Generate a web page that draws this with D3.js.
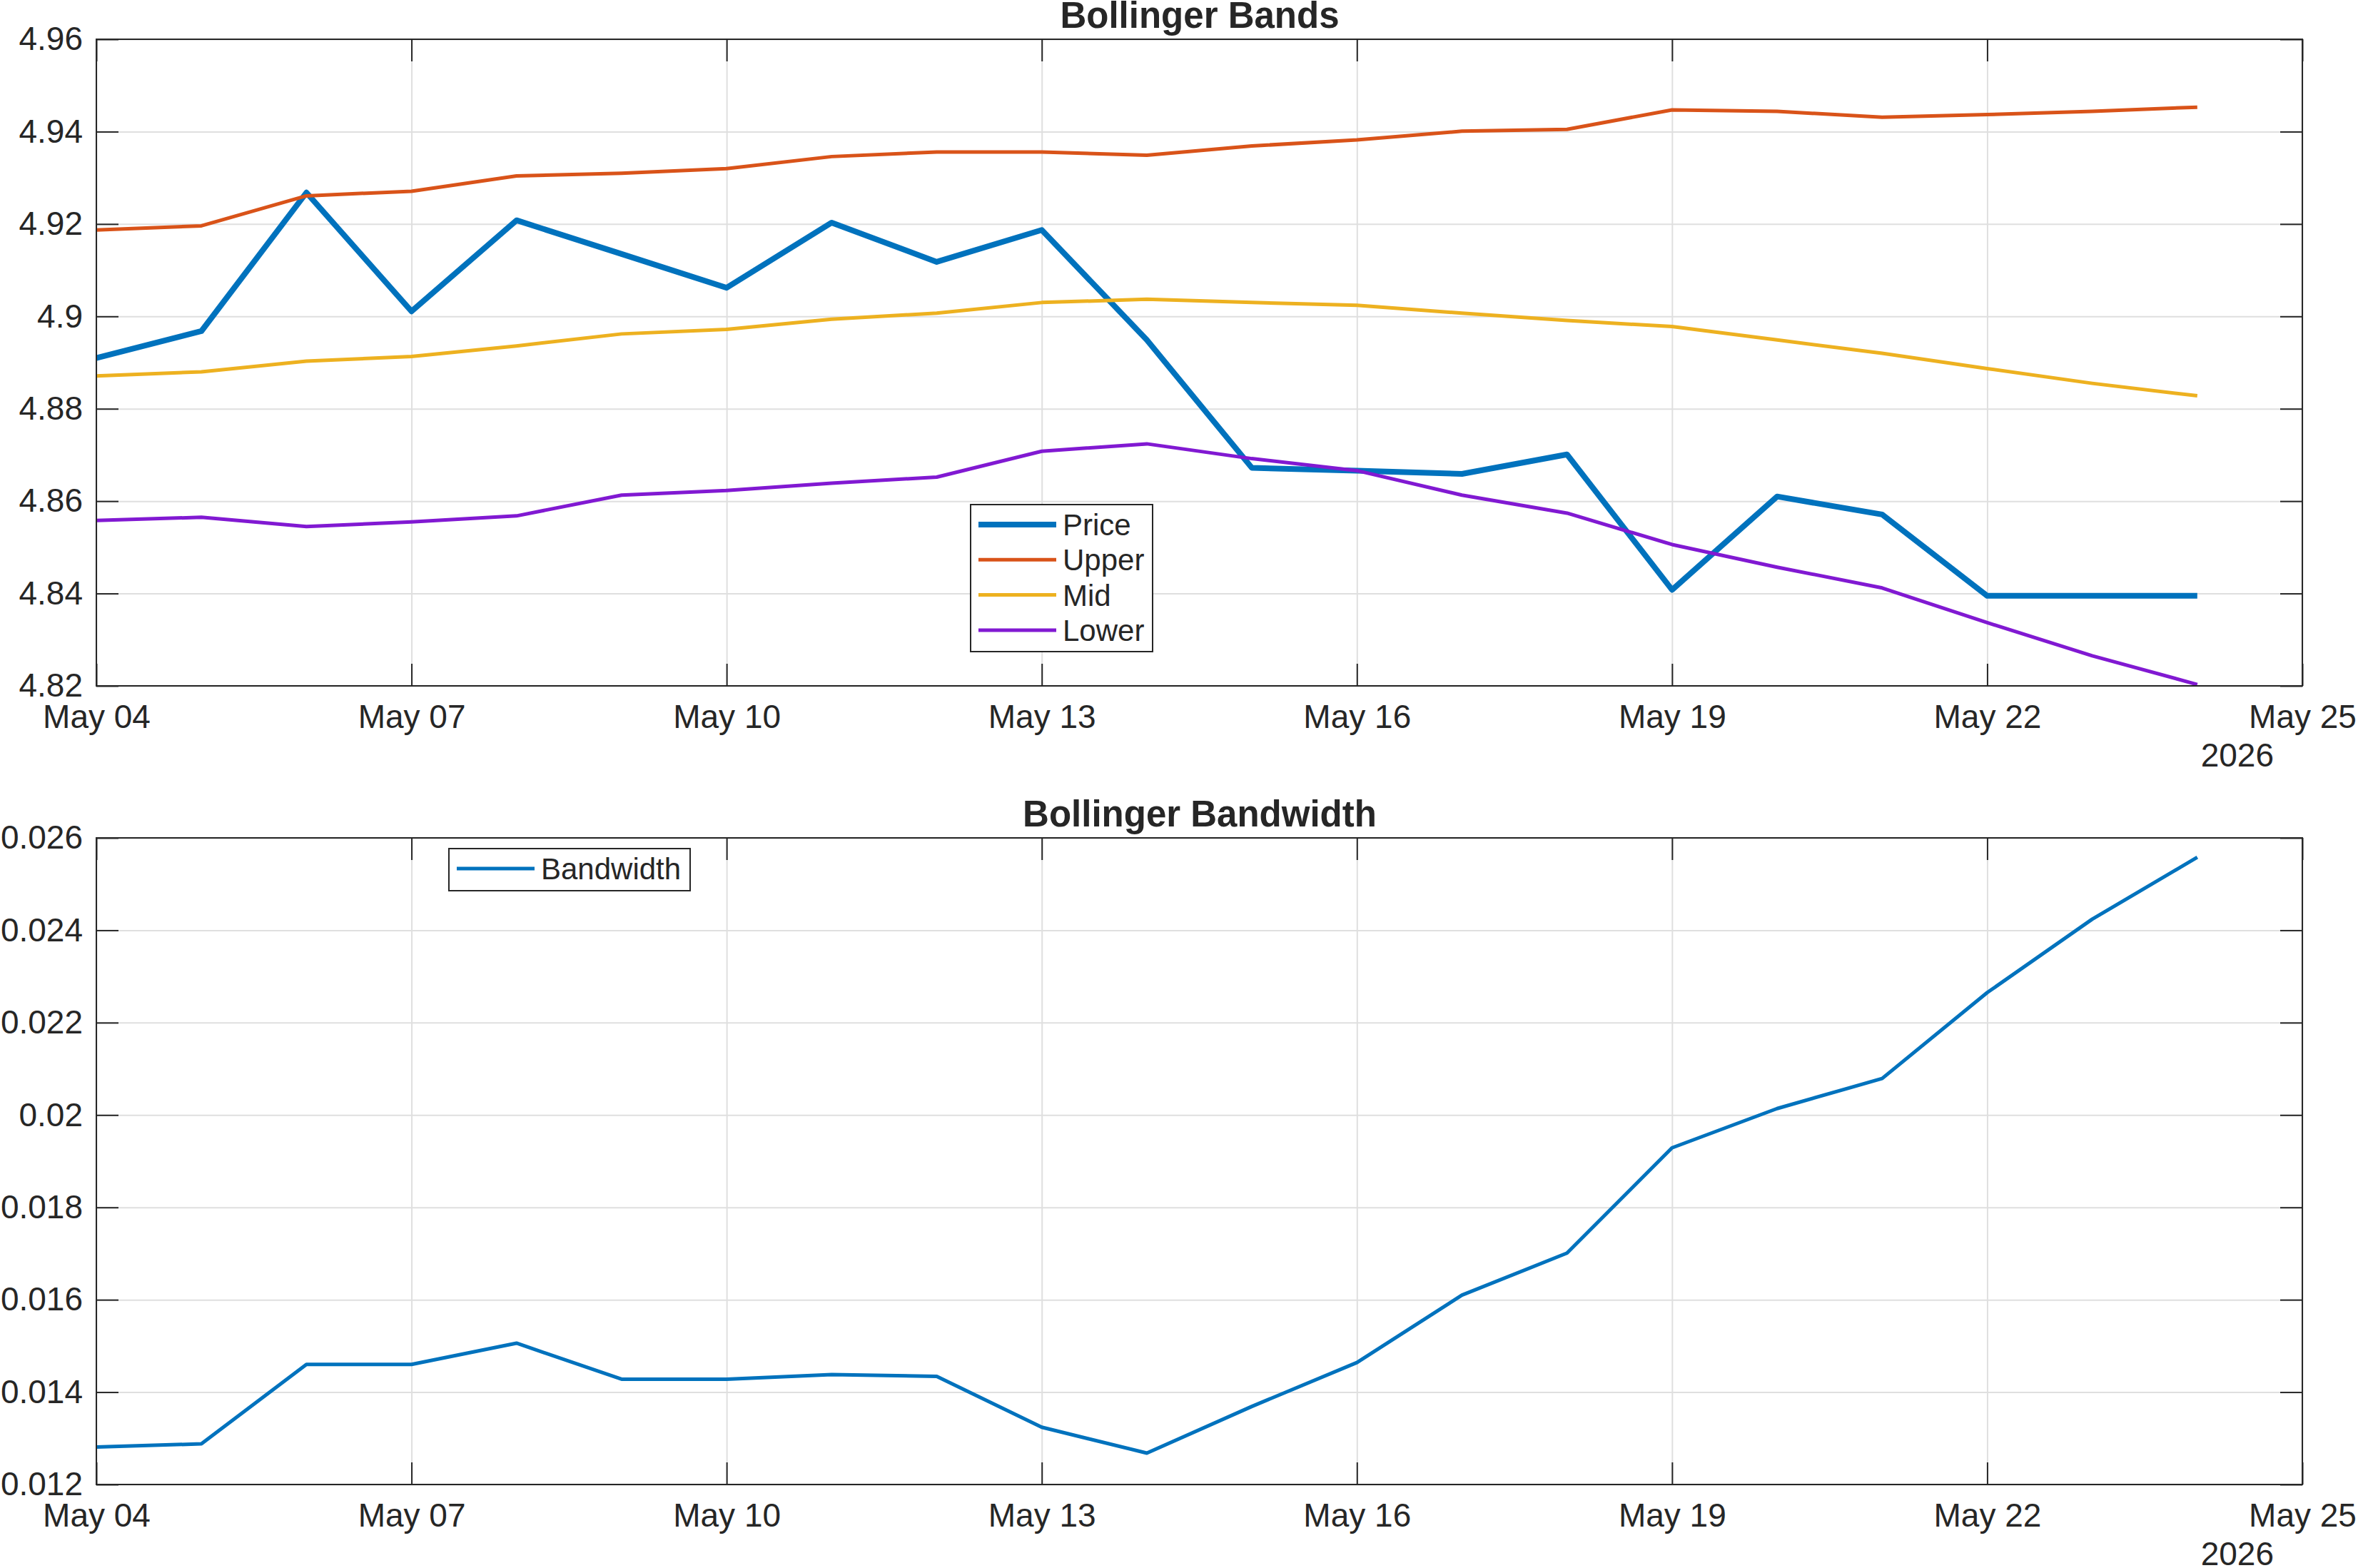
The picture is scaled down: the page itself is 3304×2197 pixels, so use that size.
<!DOCTYPE html>
<html lang="en">
	<head>
		<meta charset="utf-8">
		<title>Bollinger Bands</title>
		<script type="text/javascript" src="https://cdn.jsdelivr.net/npm/d3@7"></script>
		<style type="text/css">
			body { margin: 0; background: #fff; }
			text { font-family: "Liberation Sans", Arial, Helvetica, sans-serif; fill: #262626; }
		</style>
	</head>
	<body>
		<script type="text/javascript">

		var w = 3304;
		var h = 2197;

		// dates (one value per day)
		var days = ["2026-05-04", "2026-05-05", "2026-05-06", "2026-05-07", "2026-05-08", "2026-05-09", "2026-05-10",
			"2026-05-11", "2026-05-12", "2026-05-13", "2026-05-14", "2026-05-15", "2026-05-16", "2026-05-17",
			"2026-05-18", "2026-05-19", "2026-05-20", "2026-05-21", "2026-05-22", "2026-05-23", "2026-05-24"];

		var price = [4.8910, 4.8968, 4.9268, 4.9011, 4.9208, 4.9135, 4.9062, 4.9203, 4.9118, 4.9187, 4.8949,
			4.8672, 4.8666, 4.8659, 4.8701, 4.8408, 4.8610, 4.8571, 4.8395, 4.8395, 4.8395];
		var upper = [4.9187, 4.9196, 4.9261, 4.9271, 4.9304, 4.9310, 4.9320, 4.9346, 4.9356, 4.9356, 4.9349,
			4.9369, 4.9382, 4.9401, 4.9405, 4.9447, 4.9444, 4.9431, 4.9437, 4.9444, 4.9453];
		var mid = [4.8871, 4.8880, 4.8903, 4.8913, 4.8936, 4.8962, 4.8972, 4.8994, 4.9007, 4.9030, 4.9037,
			4.9030, 4.9024, 4.9007, 4.8991, 4.8978, 4.8949, 4.8920, 4.8887, 4.8855, 4.8828];
		var lower = [4.8558, 4.8565, 4.8545, 4.8555, 4.8568, 4.8613, 4.8623, 4.8639, 4.8652, 4.8708, 4.8724,
			4.8692, 4.8666, 4.8613, 4.8574, 4.8506, 4.8457, 4.8412, 4.8337, 4.8265, 4.8203];
		var bandwidth = [0.01281, 0.01288, 0.01460, 0.01460, 0.01506, 0.01428, 0.01428, 0.01438, 0.01434, 0.01324, 0.01268,
			0.01369, 0.01464, 0.01610, 0.01701, 0.01929, 0.02014, 0.02079, 0.02265, 0.02424, 0.02558];

		// tick labels
		var xTickDays = ["2026-05-04", "2026-05-07", "2026-05-10", "2026-05-13", "2026-05-16", "2026-05-19", "2026-05-22", "2026-05-25"];
		var yTicksBands = [4.82, 4.84, 4.86, 4.88, 4.90, 4.92, 4.94, 4.96];
		var yTicksWidth = [0.012, 0.014, 0.016, 0.018, 0.020, 0.022, 0.024, 0.026];

		var parse = d3.utcParse("%Y-%m-%d");
		var dates = days.map(parse);
		var xTicks = xTickDays.map(parse);

		var svg = d3.select("body")
			.append("svg")
			.attr("width", w)
			.attr("height", h)
			.style("overflow", "visible");

		var left = 135, right = 3226;
		var tickLen = 31;
		var axisColor = "#262626";
		var tickFont = 46;

		var xScale = d3.scaleUtc()
			.domain([xTicks[0], xTicks[xTicks.length - 1]])
			.range([left, right]);

		function fmt(d) { return String(+d.toFixed(3)); }

		function drawPanel(top, bottom, yTicks, title, series, legendBox) {
			var yScale = d3.scaleLinear()
				.domain([yTicks[0], yTicks[yTicks.length - 1]])
				.range([bottom, top]);
			var g = svg.append("g");

			// grid
			g.append("g")
				.attr("transform", "translate(0," + bottom + ")")
				.call(d3.axisBottom(xScale).tickValues(xTicks).tickSize(-(bottom - top)).tickFormat(""))
				.call(function(s) { s.select(".domain").remove(); s.selectAll("line").attr("stroke", "#dfdfdf").attr("stroke-width", 2); });
			g.append("g")
				.attr("transform", "translate(" + left + ",0)")
				.call(d3.axisLeft(yScale).tickValues(yTicks).tickSize(-(right - left)).tickFormat(""))
				.call(function(s) { s.select(".domain").remove(); s.selectAll("line").attr("stroke", "#dfdfdf").attr("stroke-width", 2); });

			// lines
			series.forEach(function(sr) {
				var line = d3.line()
					.x(function(d, i) { return xScale(dates[i]); })
					.y(function(d) { return yScale(d); });
				g.append("path")
					.datum(sr.values)
					.attr("d", line)
					.attr("fill", "none")
					.attr("stroke", sr.color)
					.attr("stroke-width", sr.width)
					.attr("stroke-linejoin", "round");
			});

			// axes with inward ticks on all four sides
			function styleAxis(s) {
				s.select(".domain").remove();
				s.attr("color", axisColor).attr("font-size", tickFont).attr("font-family", null);
				s.selectAll("line").attr("stroke-width", 2);
			}
			g.append("g")
				.attr("transform", "translate(0," + bottom + ")")
				.call(d3.axisBottom(xScale).tickValues(xTicks).tickSize(-tickLen).tickPadding(26).tickFormat(d3.utcFormat("%b %d")))
				.call(styleAxis);
			g.append("g")
				.attr("transform", "translate(0," + top + ")")
				.call(d3.axisTop(xScale).tickValues(xTicks).tickSize(-tickLen).tickFormat(""))
				.call(styleAxis);
			g.append("g")
				.attr("transform", "translate(" + left + ",0)")
				.call(d3.axisLeft(yScale).tickValues(yTicks).tickSize(-tickLen).tickPadding(19).tickFormat(fmt))
				.call(styleAxis);
			g.append("g")
				.attr("transform", "translate(" + right + ",0)")
				.call(d3.axisRight(yScale).tickValues(yTicks).tickSize(-tickLen).tickFormat(""))
				.call(styleAxis);

			g.append("rect")
				.attr("x", left).attr("y", top)
				.attr("width", right - left).attr("height", bottom - top)
				.attr("fill", "none")
				.attr("stroke", axisColor)
				.attr("stroke-width", 2);

			g.append("text")
				.attr("x", 3186).attr("y", bottom + 113)
				.attr("text-anchor", "end")
				.attr("font-size", tickFont)
				.text("2026");

			g.append("text")
				.attr("x", 1681).attr("y", top - 16)
				.attr("text-anchor", "middle")
				.attr("font-size", 51)
				.attr("font-weight", "bold")
				.text(title);

			// legend
			var lg = g.append("g");
			lg.append("rect")
				.attr("x", legendBox.x).attr("y", legendBox.y)
				.attr("width", legendBox.w).attr("height", legendBox.h)
				.attr("fill", "#fff")
				.attr("stroke", axisColor)
				.attr("stroke-width", 2);
			series.forEach(function(sr, i) {
				var by = legendBox.y + legendBox.first + i * 49.3;
				lg.append("line")
					.attr("x1", legendBox.x + 11).attr("x2", legendBox.x + 120)
					.attr("y1", by - 15).attr("y2", by - 15)
					.attr("stroke", sr.color)
					.attr("stroke-width", sr.width);
				lg.append("text")
					.attr("x", legendBox.x + 129).attr("y", by)
					.attr("font-size", 42)
					.text(sr.name);
			});
		}

		drawPanel(55, 961, yTicksBands, "Bollinger Bands", [
			{ name: "Price", values: price, color: "#0072BD", width: 8 },
			{ name: "Upper", values: upper, color: "#D95319", width: 5 },
			{ name: "Mid", values: mid, color: "#EDB120", width: 5 },
			{ name: "Lower", values: lower, color: "#8119D2", width: 5 }
		], { x: 1360, y: 707, w: 255, h: 206, first: 43 });

		drawPanel(1174, 2080, yTicksWidth, "Bollinger Bandwidth", [
			{ name: "Bandwidth", values: bandwidth, color: "#0072BD", width: 5 }
		], { x: 629, y: 1189, w: 338, h: 59, first: 43 });

		</script>
	</body>
</html>
